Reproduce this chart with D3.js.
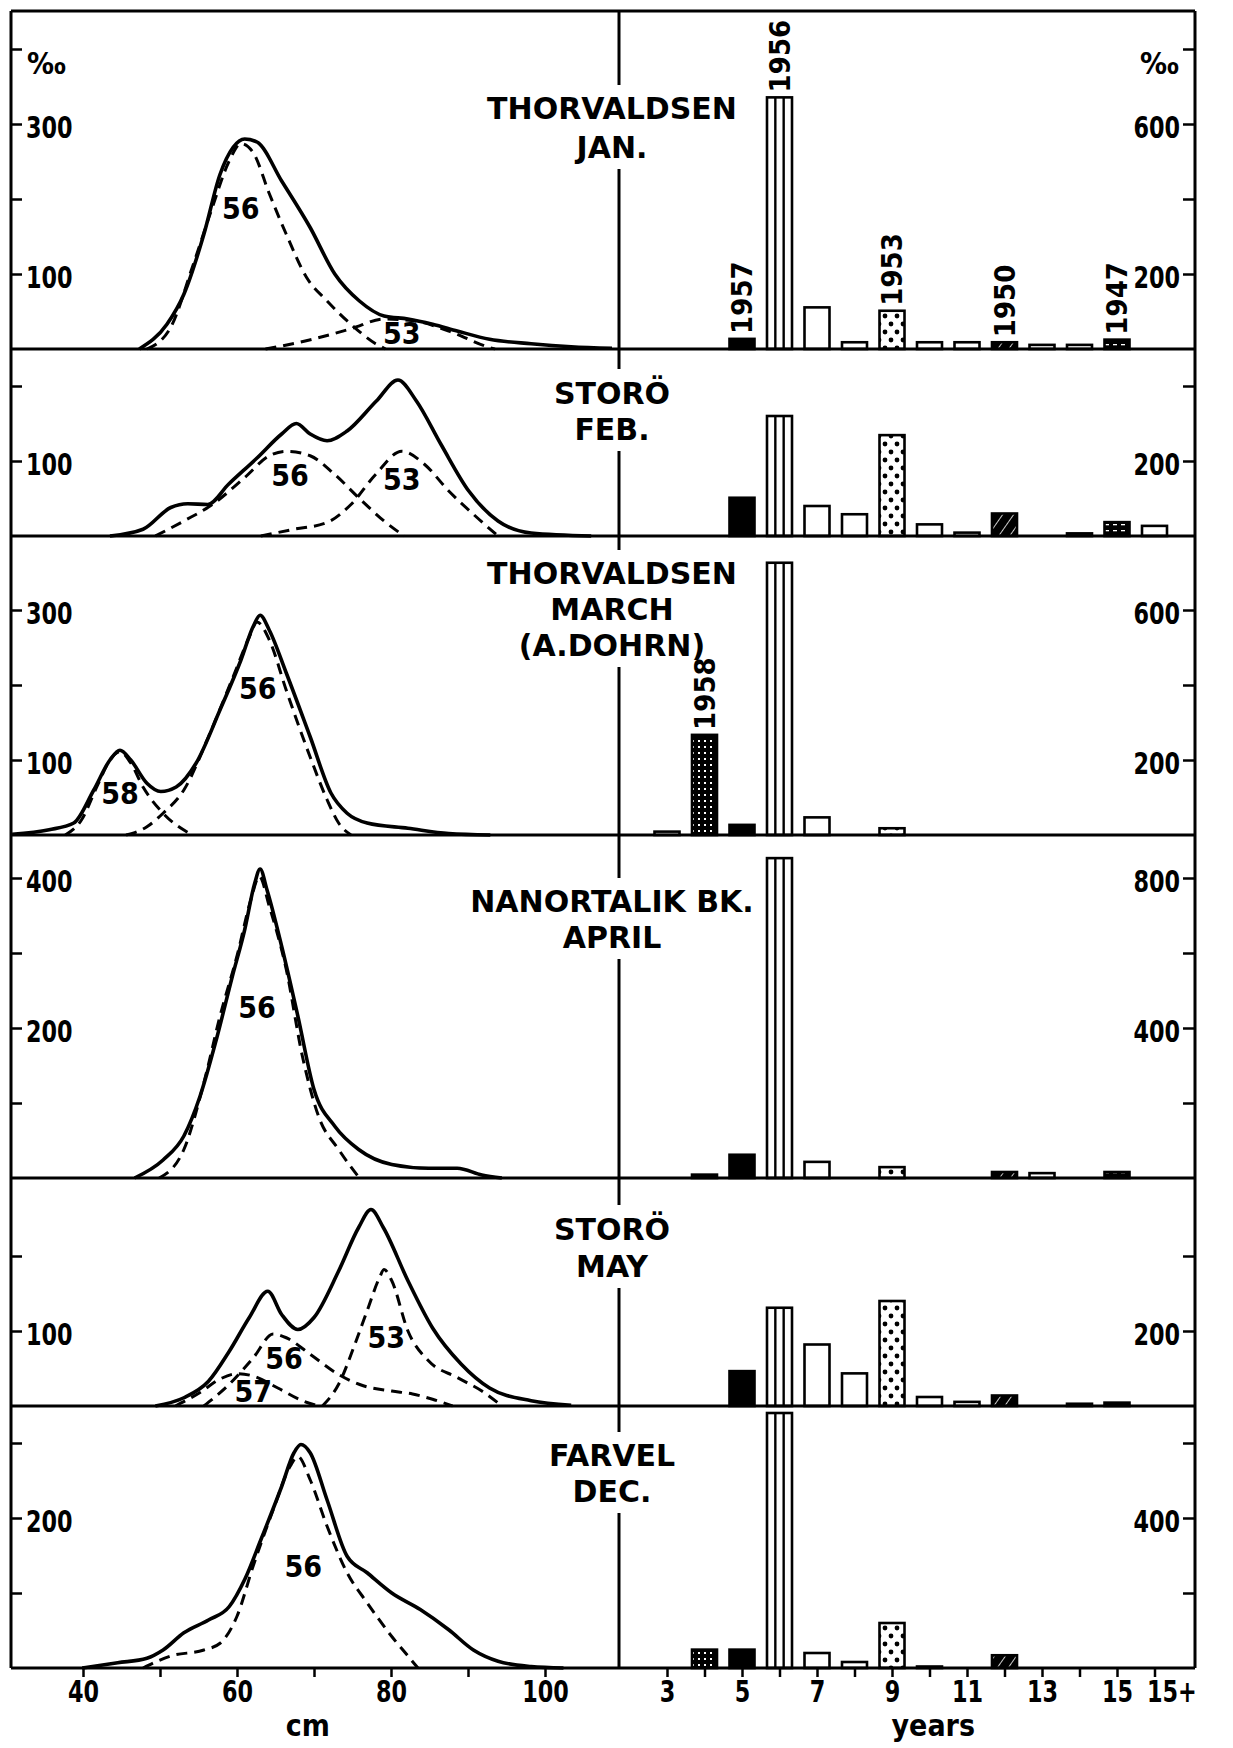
<!DOCTYPE html>
<html><head><meta charset="utf-8">
<script src="https://cdn.jsdelivr.net/npm/d3@7"></script>
<style>
body{margin:0;background:#fff}
svg{display:block}
text{font-family:"DejaVu Sans Condensed","DejaVu Sans",sans-serif;font-weight:bold;fill:#000}
text.title{font-family:"DejaVu Sans",sans-serif}
</style></head><body>
<svg id="c" width="1233" height="1748"></svg>
<script>
// ---------------- DATA ----------------
const panelTitles = [["THORVALDSEN","JAN."],["STORÖ","FEB."],["THORVALDSEN","MARCH","(A.DOHRN)"],["NANORTALIK BK.","APRIL"],["STORÖ","MAY"],["FARVEL","DEC."]];

// length distributions (cm, per mille) - solid = total, dashed = year-class components
const janTotal = [[47.3,0],[50.9,33],[53.1,73],[55.7,153],[57.8,233],[59.5,269],[61.0,280],[62.6,276],[65.8,224],[69.5,162],[72.7,100],[75.9,64],[79.1,44],[82.2,40],[85.4,33],[88.6,24],[92.8,13],[98.2,7],[103.4,3],[108.7,1]];
const janC56 = [[48.3,0],[51.4,29],[54.2,109],[56.8,189],[59.0,251],[60.5,274],[62.1,262],[64.2,207],[66.4,153],[69.0,96],[71.7,64],[74.8,33],[78.0,7],[79.3,0]];
const janC53 = [[63.7,0],[69.0,11],[74.8,27],[79.1,40],[82.7,38],[87.5,24],[92.8,2],[93.5,0]];

const febTotal = [[43.5,0],[47.8,9],[51.4,38],[53.6,43],[56.2,42],[58.9,69],[62.6,104],[65.8,136],[67.7,150],[69.5,136],[71.7,127],[74.3,140],[78.1,180],[80.9,208],[83.3,180],[86.5,122],[90.1,60],[93.9,20],[98.2,4],[106,0]];
const febC56 = [[49.4,0],[53.1,20],[56.8,42],[61.0,78],[64.2,107],[66.4,113],[69.5,107],[72.7,82],[75.8,51],[79.1,20],[81.7,0]];
const febC53 = [[63.1,0],[67.4,9],[71.7,18],[74.8,42],[78.0,82],[81.4,113],[84.3,96],[87.5,60],[90.7,29],[93.9,0]];

const marTotal = [[30.8,1],[35.6,7],[38.8,16],[41.4,60],[43.5,100],[44.8,113],[46.2,100],[48.3,69],[50.1,58],[52.1,64],[54.7,96],[57.8,167],[60.5,233],[62.1,278],[63.0,293],[64.2,273],[66.4,216],[69.5,131],[72.2,56],[74.3,29],[76.9,16],[82.2,9],[87.5,2],[92.9,0]];
const marC58 = [[37.7,0],[39.8,20],[42.0,69],[43.5,100],[44.8,111],[46.2,96],[47.8,64],[50.4,29],[54.2,0]];
const marC56 = [[45.6,0],[48.3,11],[50.4,29],[53.1,60],[56.3,131],[59.5,211],[61.6,264],[62.6,284],[64.2,260],[66.4,193],[69.5,104],[71.7,47],[73.2,16],[74.8,0]];

const aprTotal = [[46.7,0],[50.4,24],[53.1,56],[55.2,109],[57.3,184],[59.4,269],[61.0,331],[62.3,393],[63.0,412],[63.9,384],[65.8,309],[67.9,216],[70.0,118],[72.7,69],[75.8,38],[80.1,18],[84.9,13],[88.6,13],[91.8,4],[94.4,0]];
const aprC56 = [[49.9,0],[53.1,38],[55.7,127],[57.8,216],[60.0,296],[61.8,371],[62.9,402],[64.2,362],[66.4,278],[68.5,162],[70.6,82],[73.2,38],[75.9,0]];

const mayTotal = [[49.4,0],[53.1,11],[56.3,33],[59.0,73],[61.6,118],[64.0,153],[65.8,122],[67.9,102],[70.0,118],[73.2,180],[75.8,238],[77.4,262],[79.0,238],[82.2,167],[85.4,104],[89.1,56],[92.8,24],[98.2,7],[103.4,1]];
const mayC56 = [[55.7,0],[59.0,29],[62.1,64],[64.7,96],[66.4,91],[69.5,69],[73.2,42],[76.4,27],[80.1,20],[82.8,16],[85.4,9],[88.0,0]];
const mayC57 = [[52.0,0],[55.2,18],[57.8,36],[60.0,43],[62.1,40],[65.3,24],[68.5,7],[70.6,0]];
const mayC53 = [[71.1,0],[73.2,29],[75.3,82],[76.9,127],[78.5,171],[79.1,182],[80.1,167],[82.2,100],[84.9,60],[88.6,38],[91.8,20],[94.4,0]];

const decTotal = [[39.9,0],[44.5,7],[48.3,13],[50.4,24],[53.1,47],[56.3,64],[59.0,82],[61.0,118],[63.1,171],[65.8,242],[67.4,287],[68.3,298],[69.5,287],[71.7,224],[74.3,149],[76.9,127],[80.1,100],[83.8,78],[87.5,51],[90.7,24],[93.9,9],[98.2,2],[102.4,0]];
const decC56 = [[47.8,0],[51.4,16],[55.7,24],[57.8,33],[60.0,69],[62.1,136],[64.7,211],[66.9,269],[67.9,282],[69.5,251],[71.7,189],[74.3,127],[76.9,87],[80.1,42],[82.2,16],[83.5,0]];

// component labels [cm, per mille, text]
const janCompLabels = [[60.5,188,"56"],[81.4,21,"53"]];
const febCompLabels = [[66.9,81,"56"],[81.4,75,"53"]];
const marCompLabels = [[44.8,56,"58"],[62.7,196,"56"]];
const aprCompLabels = [[62.6,228,"56"]];
const mayCompLabels = [[66.1,64,"56"],[62.1,19,"57"],[79.4,92,"53"]];
const decCompLabels = [[68.6,135,"56"]];

// age composition (years, per mille)
const ages = [3,4,5,6,7,8,9,10,11,12,13,14,15,16];
const ageTickLabels = ["3","","5","","7","","9","","11","","13","","15","15+"];
const janAge = [0,0,27,671,111,18,102,18,18,18,11,11,25,0];
const febAge = [0,0,102,320,80,58,269,31,9,60,0,7,37,27];
const marAge = [9,267,27,726,47,0,18,0,0,0,0,0,0,0];
const aprAge = [0,9,62,853,43,0,29,0,0,16,13,0,16,0];
const mayAge = [0,0,93,262,164,87,280,24,11,28,0,6,9,0];
const decAge = [0,49,49,680,40,16,120,4,0,34,0,0,0,0];
// year-class labels written on bars
const janYearClass = [[5,"1957"],[6,"1956"],[9,"1953"],[12,"1950"],[15,"1947"]];
const marYearClass = [[4,"1958"]];
// pattern by age (year class)
const agePattern = {4:"grid",5:"black",6:"stripes",9:"dots",12:"hatch",15:"dark"};

// axis ticks
const leftTicks = [[100,200,300,400],[100,200],[100,200,300],[100,200,300,400],[100,200],[100,200,300]];
const leftLabels = [[100,300],[100],[100,300],[200,400],[100],[200]];
const cmTicks = [40,50,60,70,80,90,100];
const cmLabels = [40,60,80,100];

// ---------------- LAYOUT ----------------
const LEFT=11, MID=619, RIGHT=1195, TOP=11;
const baselines = [349,536,835,1178,1406,1668];
const PX100 = 75; // pixels per 100 per mille (left)
const titleLines = [[119,158],[404,440],[584,620,656],[912,948],[1240,1277],[1466,1502]];
const TITLE_X = 612;
const NARROW = 0.8; // horizontal squeeze of numeric tick labels

const svg = d3.select("#c");
const xcm = d3.scaleLinear().domain([40,100]).range([83,545]);
const xyr = d3.scaleLinear().domain([3,15]).range([667,1117]);
const BW = 25;

// patterns
const defs = svg.append("defs");
const pd = defs.append("pattern").attr("id","dots").attr("patternUnits","userSpaceOnUse").attr("width",12).attr("height",16);
pd.append("rect").attr("width",12).attr("height",16).attr("fill","#fff");
pd.append("circle").attr("cx",3).attr("cy",4).attr("r",2.4).attr("fill","#000");
pd.append("circle").attr("cx",9).attr("cy",12).attr("r",2.4).attr("fill","#000");
const pg = defs.append("pattern").attr("id","grid").attr("patternUnits","userSpaceOnUse").attr("width",6).attr("height",6);
pg.append("rect").attr("width",6).attr("height",6).attr("fill","#000");
pg.append("rect").attr("x",2).attr("y",2).attr("width",2).attr("height",2).attr("fill","#fff");
const ph = defs.append("pattern").attr("id","hatch").attr("patternUnits","userSpaceOnUse").attr("width",9).attr("height",9).attr("patternTransform","rotate(35)");
ph.append("rect").attr("width",9).attr("height",9).attr("fill","#000");
ph.append("line").attr("x1",0).attr("y1",0).attr("x2",0).attr("y2",9).attr("stroke","#fff").attr("stroke-width",1.6);
const pk = defs.append("pattern").attr("id","dark").attr("patternUnits","userSpaceOnUse").attr("width",8).attr("height",6);
pk.append("rect").attr("width",8).attr("height",6).attr("fill","#000");
pk.append("rect").attr("x",1).attr("y",2).attr("width",4).attr("height",1.3).attr("fill","#fff");

const fills = {grid:"url(#grid)",black:"#000",stripes:"#fff",dots:"url(#dots)",hatch:"url(#hatch)",dark:"url(#dark)",white:"#fff"};

const panels = [
 {total:janTotal, comps:[janC56,janC53], clabels:janCompLabels, age:janAge, yc:janYearClass},
 {total:febTotal, comps:[febC56,febC53], clabels:febCompLabels, age:febAge, yc:[]},
 {total:marTotal, comps:[marC58,marC56], clabels:marCompLabels, age:marAge, yc:marYearClass},
 {total:aprTotal, comps:[aprC56], clabels:aprCompLabels, age:aprAge, yc:[]},
 {total:mayTotal, comps:[mayC56,mayC57,mayC53], clabels:mayCompLabels, age:mayAge, yc:[]},
 {total:decTotal, comps:[decC56], clabels:decCompLabels, age:decAge, yc:[]}
];

// squeeze axis tick texts horizontally around their own anchor
function squeeze(sel){
  sel.each(function(){
    const t = d3.select(this);
    const x = +t.attr("x") || 0;
    t.attr("x", x/NARROW).attr("transform",`scale(${NARROW},1)`);
  });
}

// middle line (under titles)
svg.append("line").attr("x1",MID).attr("x2",MID).attr("y1",TOP).attr("y2",baselines[5]).attr("stroke","#000").attr("stroke-width",3);

panels.forEach((p,i)=>{
  const base = baselines[i];
  const y = d3.scaleLinear().domain([0,100]).range([base, base-PX100]);
  const yR = d3.scaleLinear().domain([0,200]).range([base, base-PX100]);

  // title with white background
  const tg = svg.append("g");
  const bg = tg.append("rect").attr("fill","#fff");
  panelTitles[i].forEach((t,j)=>{
    tg.append("text").attr("class","title").attr("x",TITLE_X).attr("y",titleLines[i][j]).attr("text-anchor","middle")
      .attr("font-size",30).text(t);
  });
  const bb = tg.node().getBBox();
  bg.attr("x",MID-14).attr("width",28).attr("y",bb.y-6).attr("height",bb.height+10);

  // left y-axis
  const la = svg.append("g").attr("transform",`translate(${LEFT},0)`)
    .call(d3.axisRight(y).tickValues(leftTicks[i]).tickSize(11).tickPadding(4)
      .tickFormat(d=>leftLabels[i].includes(d)?d:""));
  la.select(".domain").remove();
  la.selectAll("line").attr("stroke-width",2.5);
  la.selectAll("text").attr("font-size",31).attr("dy","0.45em").attr("font-family",null).call(squeeze);

  // right y-axis
  const ra = svg.append("g").attr("transform",`translate(${RIGHT},0)`)
    .call(d3.axisLeft(yR).tickValues(leftTicks[i].map(v=>v*2)).tickSize(12).tickPadding(3)
      .tickFormat(d=>leftLabels[i].includes(d/2)?d:""));
  ra.select(".domain").remove();
  ra.selectAll("line").attr("stroke-width",2.5);
  ra.selectAll("text").attr("font-size",31).attr("dy","0.45em").attr("font-family",null).call(squeeze);

  // curves
  const line = d3.line().x(d=>xcm(d[0])).y(d=>y(d[1])).curve(d3.curveMonotoneX);
  p.comps.forEach(c=>{
    svg.append("path").attr("d",line(c)).attr("fill","none").attr("stroke","#000")
      .attr("stroke-width",3).attr("stroke-dasharray","11,7");
  });
  svg.append("path").attr("d",line(p.total)).attr("fill","none").attr("stroke","#000")
    .attr("stroke-width",3.6).attr("stroke-linejoin","round");
  p.clabels.forEach(l=>{
    svg.append("text").attr("x",xcm(l[0])).attr("y",y(l[1])).attr("text-anchor","middle")
      .attr("dominant-baseline","central").attr("font-size",30).text(l[2]);
  });

  // bars
  ages.forEach((a,k)=>{
    const v = p.age[k];
    if(!v) return;
    const pat = agePattern[a] || "white";
    const x0 = xyr(a)-BW/2, y0 = yR(v);
    svg.append("rect").attr("x",x0).attr("y",y0).attr("width",BW).attr("height",base-y0)
      .attr("fill",fills[pat]).attr("stroke","#000").attr("stroke-width",2.6);
    if(pat==="stripes"){
      [BW/3,2*BW/3].forEach(o=>svg.append("line").attr("x1",x0+o).attr("x2",x0+o)
        .attr("y1",y0).attr("y2",base).attr("stroke","#000").attr("stroke-width",2.4));
    }
  });
  p.yc.forEach(([a,t])=>{
    const k = ages.indexOf(a);
    const yt = yR(p.age[k]) - 5;
    svg.append("text").attr("transform",`translate(${xyr(a)},${yt}) rotate(-90)`)
      .attr("text-anchor","start").attr("dominant-baseline","central").attr("font-size",29).text(t);
  });

  // baseline
  svg.append("line").attr("x1",LEFT).attr("x2",RIGHT).attr("y1",base).attr("y2",base)
    .attr("stroke","#000").attr("stroke-width",3);
});

// per mille labels
svg.append("text").attr("x",27).attr("y",74).attr("font-size",30).text("‰");
svg.append("text").attr("x",RIGHT-16).attr("y",74).attr("text-anchor","end").attr("font-size",30).text("‰");

// frame
svg.append("line").attr("x1",LEFT).attr("x2",RIGHT).attr("y1",TOP).attr("y2",TOP).attr("stroke","#000").attr("stroke-width",3);
svg.append("line").attr("x1",LEFT).attr("x2",LEFT).attr("y1",TOP).attr("y2",baselines[5]).attr("stroke","#000").attr("stroke-width",3);
svg.append("line").attr("x1",RIGHT).attr("x2",RIGHT).attr("y1",TOP).attr("y2",baselines[5]).attr("stroke","#000").attr("stroke-width",3);

// bottom axes
const B = baselines[5];
const ba = svg.append("g").attr("transform",`translate(0,${B})`)
  .call(d3.axisBottom(xcm).tickValues(cmTicks).tickSize(9).tickPadding(3)
    .tickFormat(d=>cmLabels.includes(d)?d:""));
ba.select(".domain").remove();
ba.selectAll("line").attr("stroke-width",2.5);
ba.selectAll("text").attr("font-size",31).attr("font-family",null).call(squeeze);

const ya = svg.append("g").attr("transform",`translate(0,${B})`)
  .call(d3.axisBottom(xyr).tickValues(ages).tickSize(9).tickPadding(3)
    .tickFormat((d,i)=>ageTickLabels[i]));
ya.select(".domain").remove();
ya.selectAll("line").attr("stroke-width",2.5);
ya.selectAll("text").attr("font-size",31).attr("font-family",null);
ya.selectAll(".tick").filter(d=>d===16).select("text").attr("text-anchor","start").attr("x",-8);
ya.selectAll("text").call(squeeze);

svg.append("text").attr("x",xcm(69.2)).attr("y",1736).attr("text-anchor","middle").attr("font-size",30).text("cm");
svg.append("text").attr("x",xyr(10.1)).attr("y",1736).attr("text-anchor","middle").attr("font-size",30).text("years");
</script>
</body></html>
